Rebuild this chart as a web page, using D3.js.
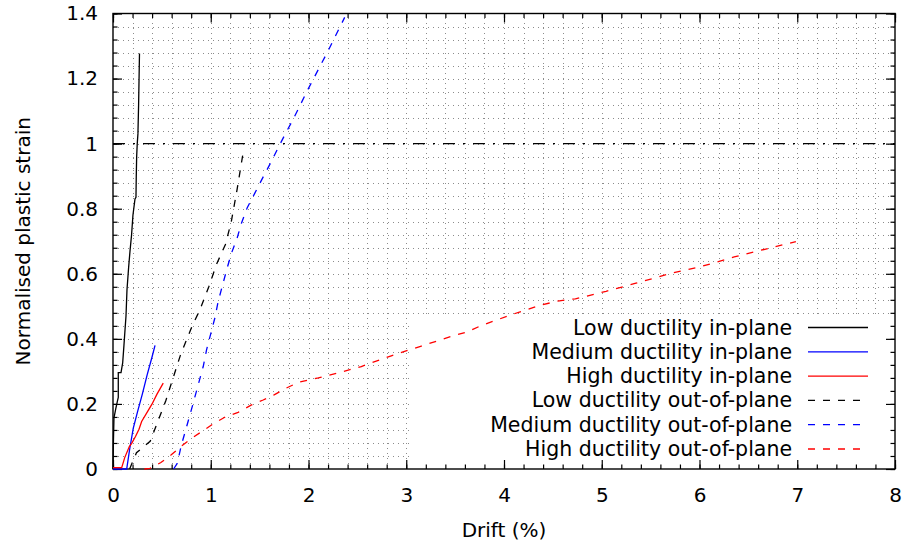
<!DOCTYPE html>
<html>
<head>
<meta charset="utf-8">
<script src="https://cdn.jsdelivr.net/npm/d3@7"></script>
<style>
  body { margin: 0; background: #fff; }
  text { font-family: "DejaVu Sans", sans-serif; fill: #000; }
</style>
</head>
<body>
<svg id="chart" width="908" height="548"></svg>
<script>
// Drift (%) vs normalised plastic strain, one [drift, strain] list per case
const lowInPlane = [
  [0, 0], [0.004, 0.08], [0.01, 0.157], [0.028, 0.185], [0.044, 0.207], [0.054, 0.22],
  [0.054, 0.296], [0.082, 0.296], [0.099, 0.326], [0.112, 0.38], [0.123, 0.428],
  [0.133, 0.47], [0.143, 0.55], [0.16, 0.62], [0.174, 0.67], [0.19, 0.72], [0.204, 0.78],
  [0.225, 0.83], [0.235, 0.835], [0.238, 0.9], [0.242, 0.96], [0.248, 1.0], [0.255, 1.03],
  [0.262, 1.12], [0.271, 1.277]
];
const mediumInPlane = [
  [0, 0], [0.14, 0], [0.17, 0.06], [0.207, 0.125], [0.25, 0.175], [0.3, 0.23],
  [0.35, 0.29], [0.4, 0.345], [0.43, 0.38]
];
const highInPlane = [
  [0, 0.004], [0.089, 0.004], [0.12, 0.035], [0.167, 0.069], [0.191, 0.079], [0.23, 0.1],
  [0.266, 0.122], [0.293, 0.146], [0.35, 0.175], [0.4, 0.2], [0.45, 0.23], [0.514, 0.264]
];
const lowOutOfPlane = [
  [0.17, 0], [0.24, 0.05], [0.38, 0.085], [0.54, 0.21], [0.69, 0.35], [0.81, 0.44],
  [0.89, 0.49], [0.98, 0.56], [1.06, 0.63], [1.15, 0.69], [1.21, 0.76], [1.27, 0.86],
  [1.33, 0.97]
];
const mediumOutOfPlane = [
  [0.62, 0], [0.657, 0.017], [0.7, 0.074], [0.787, 0.166], [0.923, 0.315], [0.957, 0.366],
  [1.042, 0.464], [1.076, 0.515], [1.168, 0.618], [1.213, 0.664], [1.27, 0.71],
  [1.315, 0.756], [1.372, 0.802], [1.451, 0.848], [1.53, 0.894], [1.611, 0.94],
  [1.689, 0.987], [1.768, 1.033], [1.842, 1.074], [2.0, 1.17], [2.2, 1.285], [2.37, 1.388]
];
const highOutOfPlane = [
  [0.32, 0], [0.378, 0.002], [0.49, 0.02], [0.593, 0.043], [0.702, 0.071], [0.804, 0.094],
  [0.917, 0.117], [1.032, 0.14], [1.155, 0.161], [1.28, 0.174], [1.417, 0.197],
  [1.536, 0.212], [1.648, 0.228], [1.768, 0.248], [1.893, 0.266], [2.1, 0.28], [2.3, 0.295],
  [2.54, 0.315], [2.847, 0.348], [3.154, 0.378], [3.487, 0.41], [3.63, 0.422], [3.76, 0.44],
  [4.073, 0.474], [4.39, 0.505], [4.567, 0.517], [4.73, 0.523], [5.044, 0.546],
  [5.35, 0.571], [5.69, 0.6], [6.015, 0.622], [6.355, 0.652], [6.678, 0.676], [6.986, 0.699]
];
const legendLabels = [
  "Low ductility in-plane", "Medium ductility in-plane", "High ductility in-plane",
  "Low ductility out-of-plane", "Medium ductility out-of-plane", "High ductility out-of-plane"
];
const xTicks = [0, 1, 2, 3, 4, 5, 6, 7, 8];
const yTicks = [0, 0.2, 0.4, 0.6, 0.8, 1, 1.2, 1.4];
const strainLimit = 1;

const seriesData = [lowInPlane, mediumInPlane, highInPlane, lowOutOfPlane, mediumOutOfPlane, highOutOfPlane];
const seriesColor = ["#000000", "#0000ff", "#ff0000", "#000000", "#0000ff", "#ff0000"];
const seriesDashed = [false, false, false, true, true, true];

const svg = d3.select("#chart");
const plotLeft = 113, plotRight = 895, plotTop = 13.5, plotBottom = 469;
const x = d3.scaleLinear().domain([0, 8]).range([plotLeft, plotRight]);
const y = d3.scaleLinear().domain([0, 1.4]).range([plotBottom, plotTop]);
const fontSize = 20;
const keyFontSize = 20.5;

const xMinor = d3.range(0, 8.0001, 0.2).map(v => +v.toFixed(2));
const yMinor = d3.range(0, 1.40001, 0.04).map(v => +v.toFixed(2));

// dotted grid at every minor tick
const grid = svg.append("g").attr("stroke", "#8c8c8c").attr("stroke-width", 1)
  .attr("stroke-dasharray", "1,4");
grid.selectAll("line.gx").data(xMinor.filter(v => v > 0 && v < 8)).join("line")
  .attr("x1", d => Math.round(x(d)) + 0.5).attr("x2", d => Math.round(x(d)) + 0.5)
  .attr("y1", plotBottom).attr("y2", plotTop);
grid.selectAll("line.gy").data(yMinor.filter(v => v > 0 && v < 1.4)).join("line")
  .attr("y1", d => Math.round(y(d)) + 0.5).attr("y2", d => Math.round(y(d)) + 0.5)
  .attr("x1", plotLeft).attr("x2", plotRight);

// opaque key background
const keyTop = 318, keyLeft = 410;
svg.append("rect").attr("x", keyLeft).attr("y", keyTop)
  .attr("width", plotRight - keyLeft - 1).attr("height", plotBottom - keyTop - 1).attr("fill", "#fff");

// tick marks on all four sides, pointing inwards
function ticks(axisFn, values, size, transform) {
  const g = svg.append("g").attr("transform", transform)
    .call(axisFn.tickValues(values).tickSize(-size).tickFormat(""));
  g.select(".domain").remove();
  g.selectAll("line").attr("stroke", "#000").attr("stroke-width", 1.2);
}
ticks(d3.axisBottom(x), xMinor, 4.5, `translate(0,${plotBottom})`);
ticks(d3.axisTop(x), xMinor, 4.5, `translate(0,${plotTop})`);
ticks(d3.axisLeft(y), yMinor, 4.5, `translate(${plotLeft},0)`);
ticks(d3.axisRight(y), yMinor, 4.5, `translate(${plotRight},0)`);
ticks(d3.axisBottom(x), xTicks, 9, `translate(0,${plotBottom})`);
ticks(d3.axisTop(x), xTicks, 9, `translate(0,${plotTop})`);
ticks(d3.axisLeft(y), yTicks, 9, `translate(${plotLeft},0)`);
ticks(d3.axisRight(y), yTicks, 9, `translate(${plotRight},0)`);

// tick labels
const xLab = svg.append("g").attr("transform", `translate(0,${plotBottom})`)
  .call(d3.axisBottom(x).tickValues(xTicks).tickSize(0).tickPadding(18.5).tickFormat(d3.format("d")));
xLab.select(".domain").remove();
xLab.selectAll("text").attr("font-size", fontSize).attr("font-family", "DejaVu Sans");
const yLab = svg.append("g").attr("transform", `translate(${plotLeft},0)`)
  .call(d3.axisLeft(y).tickValues(yTicks).tickSize(0).tickPadding(15).tickFormat(d => String(+d.toFixed(1))));
yLab.select(".domain").remove();
yLab.selectAll("text").attr("font-size", fontSize).attr("font-family", "DejaVu Sans");

// frame
svg.append("rect").attr("x", plotLeft).attr("y", plotTop)
  .attr("width", plotRight - plotLeft).attr("height", plotBottom - plotTop)
  .attr("fill", "none").attr("stroke", "#000").attr("stroke-width", 1.4);

// strain limit reference
svg.append("line").attr("x1", x(0)).attr("x2", x(8)).attr("y1", y(strainLimit)).attr("y2", y(strainLimit))
  .attr("stroke", "#000").attr("stroke-width", 1.3).attr("stroke-dasharray", "12,8,2,8");

// curves
const line = d3.line().x(d => x(d[0])).y(d => y(d[1]));
seriesData.forEach((data, i) => {
  svg.append("path").datum(data).attr("d", line).attr("fill", "none")
    .attr("stroke", seriesColor[i]).attr("stroke-width", 1.3)
    .attr("stroke-dasharray", seriesDashed[i] ? "7,8" : null);
});

// key
const key = svg.append("g");
legendLabels.forEach((label, i) => {
  const cy = 327.5 + i * 24.3;
  key.append("text").attr("x", 792).attr("y", cy + 7).attr("text-anchor", "end")
    .attr("font-size", keyFontSize).text(label);
  key.append("line").attr("x1", 808).attr("x2", 868).attr("y1", cy).attr("y2", cy)
    .attr("stroke", seriesColor[i]).attr("stroke-width", 1.3)
    .attr("stroke-dasharray", seriesDashed[i] ? "7,8" : null);
});

// axis titles
svg.append("text").attr("x", (plotLeft + plotRight) / 2).attr("y", 537).attr("text-anchor", "middle")
  .attr("font-size", fontSize).text("Drift (%)");
svg.append("text").attr("transform", `translate(30,${(plotTop + plotBottom) / 2}) rotate(-90)`)
  .attr("text-anchor", "middle").attr("font-size", fontSize).text("Normalised plastic strain");
</script>
</body>
</html>
